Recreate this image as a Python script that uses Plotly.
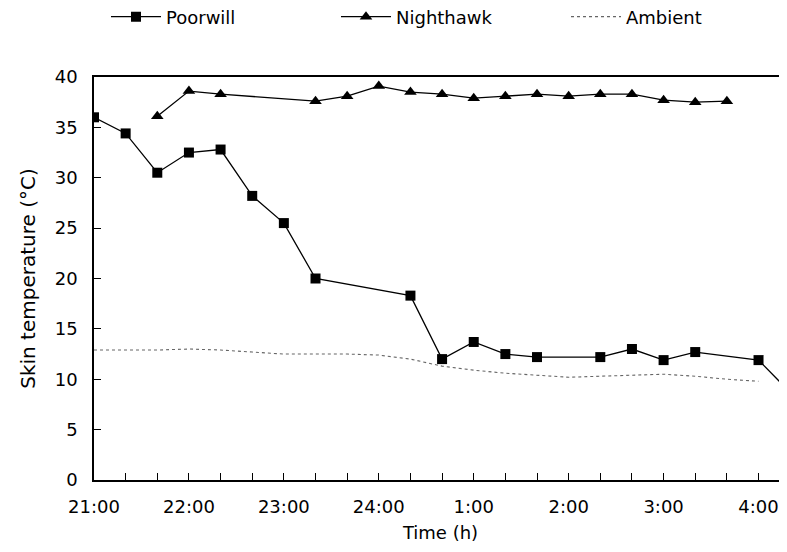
import plotly.graph_objects as go

# minutes after 21:00
poorwill_t = [0, 20, 40, 60, 80, 100, 120, 140, 200, 220, 240, 260, 280, 320, 340, 360, 380, 420, 440]
poorwill_v = [36.0, 34.4, 30.5, 32.5, 32.8, 28.2, 25.5, 20.0, 18.3, 12.0, 13.7, 12.5, 12.2, 12.2, 13.0, 11.9, 12.7, 11.9, 8.7]

nighthawk_t = [40, 60, 80, 140, 160, 180, 200, 220, 240, 260, 280, 300, 320, 340, 360, 380, 400]
nighthawk_v = [36.1, 38.6, 38.3, 37.6, 38.1, 39.1, 38.5, 38.3, 37.9, 38.1, 38.3, 38.1, 38.3, 38.3, 37.7, 37.5, 37.6]

ambient_t = [0, 20, 40, 60, 80, 100, 120, 140, 160, 180, 200, 220, 240, 260, 280, 300, 320, 340, 360, 380, 400, 420]
ambient_v = [12.9, 12.9, 12.9, 13.0, 12.9, 12.7, 12.5, 12.5, 12.5, 12.4, 12.0, 11.3, 10.9, 10.6, 10.4, 10.2, 10.3, 10.4, 10.5, 10.3, 10.0, 9.8]

tick_vals = [0, 60, 120, 180, 240, 300, 360, 420]
tick_text = ["21:00", "22:00", "23:00", "24:00", "1:00", "2:00", "3:00", "4:00"]

FONT = "DejaVu Sans"

fig = go.Figure()
fig.add_trace(go.Scatter(
    x=poorwill_t, y=poorwill_v, name="Poorwill", mode="lines+markers",
    line=dict(color="black", width=1.3),
    marker=dict(symbol="square", size=10, color="black"),
))
fig.add_trace(go.Scatter(
    x=nighthawk_t, y=nighthawk_v, name="Nighthawk", mode="lines+markers",
    line=dict(color="black", width=1.3),
    marker=dict(symbol="triangle-up", size=11, color="black"),
))
fig.add_trace(go.Scatter(
    x=ambient_t, y=ambient_v, name="Ambient", mode="lines",
    line=dict(color="#666666", width=1.1, dash="dot"),
))

# the page body has an 8px margin, so the figure is 8px smaller than the window
fig.update_layout(
    width=779, height=544,
    margin=dict(l=86, r=0, t=69, b=72, autoexpand=False),
    paper_bgcolor="white", plot_bgcolor="white",
    font=dict(family=FONT, size=18, color="black"),
    showlegend=True,
    legend=dict(
        orientation="h", x=0.0173, xanchor="left", y=1.149, yanchor="middle",
        entrywidth=165, itemwidth=50, font=dict(size=18),
        bgcolor="rgba(0,0,0,0)",
    ),
)
fig.update_xaxes(
    range=[0, 438], showgrid=False, zeroline=False, automargin=False,
    showline=True, linecolor="black", linewidth=1.5, mirror=True,
    tickmode="array", tickvals=tick_vals, ticktext=tick_text,
    ticks="inside", ticklen=7, tickcolor="black", tickwidth=1,
    ticklabelstandoff=10,
    minor=dict(dtick=20, tick0=0, ticks="inside", ticklen=7, tickcolor="black", tickwidth=1, showgrid=False),
    title=dict(text="Time (h)", font=dict(size=18), standoff=10),
)
fig.update_yaxes(
    range=[0, 40], dtick=5, showgrid=False, zeroline=False, automargin=False,
    showline=True, linecolor="black", linewidth=1.5,
    ticks="inside", ticklen=7, tickcolor="black", tickwidth=1,
    ticklabelstandoff=11,
    title=dict(text="Skin temperature (°C)", font=dict(size=20), standoff=14),
)

fig.write_html("out.html")
